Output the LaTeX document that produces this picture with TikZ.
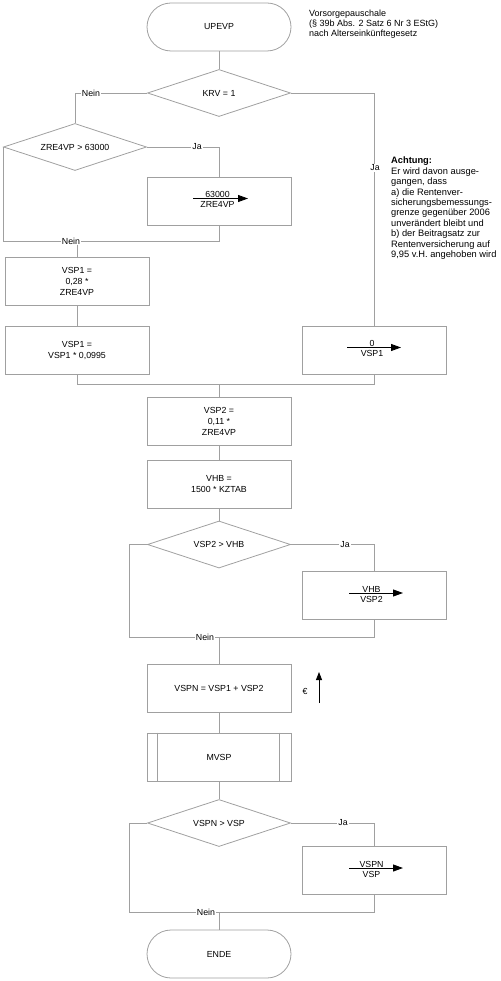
\documentclass[tikz,border=0pt]{standalone}
\usepackage{fontspec}
\setmainfont{Liberation Sans}
\usetikzlibrary{shapes.geometric,arrows.meta}
\definecolor{lg}{HTML}{A0A0A0}
\begin{document}
\begin{tikzpicture}[x=1pt,y=-1pt,
  every node/.style={font=\fontsize{8.8}{11}\selectfont},
  gl/.style={draw=lg,line width=0.8pt},
  proc/.style={gl, minimum width=144pt, minimum height=48pt, align=center, inner sep=0pt},
  term/.style={gl, rounded corners=24pt, minimum width=144pt, minimum height=48pt, inner sep=0pt},
  dec/.style={gl, diamond, aspect=3, minimum width=143pt, minimum height=47pt, inner sep=0pt},
  lbl/.style={fill=white, inner sep=1pt},
  frac/.style={inner sep=0pt},
  farr/.style={-{Triangle[length=10pt,width=7pt]}, line width=0.9pt, draw=black}
]
\useasboundingbox (0,0) rectangle (500,981);

% nodes
\node[term] (start) at (219,27) {UPEVP};
\node[anchor=north west, align=left, inner sep=0pt, font=\fontsize{9}{10.2}\selectfont] (note1) at (309,9.5)
  {Vorsorgepauschale\\(§ 39b Abs. 2 Satz 6 Nr 3 EStG)\\nach Alterseinkünftegesetz};
\node[dec] (krv) at (219,93) {KRV = 1};
\node[dec] (zre) at (75,147) {ZRE4VP > 63000};
\node[proc] (b63) at (219,201) {};
\node[proc] (vsp1a) at (77,281) {VSP1 =\\0,28 *\\ZRE4VP};
\node[proc] (vsp1b) at (77,350) {VSP1 =\\VSP1 * 0,0995};
\node[proc] (bz) at (374,350) {};
\node[anchor=north west, align=left, inner sep=0pt, font=\fontsize{9.3}{10.4}\selectfont] (note2) at (391,157)
  {\textbf{Achtung:}\\Er wird davon ausge-\\gangen, dass\\a) die Rentenver-\\sicherungsbemessungs-\\grenze gegenüber 2006\\unverändert bleibt und\\b) der Beitragsatz zur\\Rentenversicherung auf\\9,95 v.H. angehoben wird};
\node[proc] (vsp2) at (219,421) {VSP2 =\\0,11 *\\ZRE4VP};
\node[proc] (vhb) at (219,484.5) {VHB =\\1500 * KZTAB};
\node[dec] (d1) at (219,544.5) {VSP2 > VHB};
\node[proc] (bvhb) at (374.5,595.5) {};
\node[proc] (vspn) at (219,688) {VSPN = VSP1 + VSP2};
\node[proc] (mvsp) at (219,757) {MVSP};
\node[dec] (d2) at (219,823) {VSPN > VSP};
\node[proc] (bvspn) at (374.5,870.5) {};
\node[term] (ende) at (219,954) {ENDE};

% sub-process inner lines
\draw[gl] ([xshift=11pt]mvsp.north west) -- ([xshift=11pt]mvsp.south west);
\draw[gl] ([xshift=-12pt]mvsp.north east) -- ([xshift=-12pt]mvsp.south east);

% fraction contents
\node[frac, anchor=base] (n63) at ([shift={(-1.5,-3.5)}]b63.center) {63000};
\node[frac, anchor=north] (d63) at ([shift={(-1.5,0.5)}]b63.center) {ZRE4VP};
\draw[farr] ([shift={(-26,-2.5)}]b63.center) -- ([shift={(29,-2.5)}]b63.center);

\node[frac, anchor=base] (nz) at ([shift={(-2,-3.5)}]bz.center) {0};
\node[frac, anchor=north] (dz) at ([shift={(-2,0.5)}]bz.center) {VSP1};
\draw[farr] ([shift={(-27,-2.5)}]bz.center) -- ([shift={(27,-2.5)}]bz.center);

\node[frac, anchor=base] (nvhb) at ([shift={(-3,-3.5)}]bvhb.center) {VHB};
\node[frac, anchor=north] (dvhb) at ([shift={(-3,0.5)}]bvhb.center) {VSP2};
\draw[farr] ([shift={(-25.5,-2.5)}]bvhb.center) -- ([shift={(28.5,-2.5)}]bvhb.center);

\node[frac, anchor=base] (nvspn) at ([shift={(-3,-3.5)}]bvspn.center) {VSPN};
\node[frac, anchor=north] (dvspn) at ([shift={(-3,0.5)}]bvspn.center) {VSP};
\draw[farr] ([shift={(-25.5,-2.5)}]bvspn.center) -- ([shift={(28.5,-2.5)}]bvspn.center);

% euro arrow
\node[frac] (eur) at (305,691) {€};
\coordinate (eb) at (319,703);
\coordinate (et) at (319,672);
\draw[-{Triangle[length=8pt,width=6pt]}, line width=0.9pt] (eb) -- (et);

% connectors
\coordinate (m1) at (77,241);
\coordinate (m2) at (219,384);
\coordinate (m3) at (219,637);
\coordinate (m4) at (219,912);

\draw[gl] (start) -- (krv);
\draw[gl] (krv.west) -| (zre.north);
\draw[gl] (krv.east) -| (bz.north);
\draw[gl] (zre.east) -| (b63.north);
\draw[gl] (zre.west) |- (m1);
\draw[gl] (b63.south) |- (m1);
\draw[gl] (m1) -- (vsp1a.north);
\draw[gl] (vsp1a) -- (vsp1b);
\draw[gl] (vsp1b.south) |- (m2);
\draw[gl] (bz.south) |- (m2);
\draw[gl] (m2) -- (vsp2.north);
\draw[gl] (vsp2) -- (vhb);
\draw[gl] (vhb) -- (d1);
\draw[gl] (d1.east) -| (bvhb.north);
\draw[gl] (d1.west) -- ++(-18,0) |- (m3);
\draw[gl] (bvhb.south) |- (m3);
\draw[gl] (m3) -- (vspn.north);
\draw[gl] (vspn) -- (mvsp);
\draw[gl] (mvsp) -- (d2);
\draw[gl] (d2.east) -| (bvspn.north);
\draw[gl] (d2.west) -- ++(-18,0) |- (m4);
\draw[gl] (bvspn.south) |- (m4);
\draw[gl] (m4) -- (ende);

% labels
\node[lbl] (l1) at (91,93) {Nein};
\node[lbl] (l2) at (197,147) {Ja};
\node[lbl] (l3) at (71,241) {Nein};
\node[lbl] (l4) at (375,168) {Ja};
\node[lbl] (l5) at (345,544.5) {Ja};
\node[lbl] (l6) at (205,637) {Nein};
\node[lbl] (l7) at (343,823) {Ja};
\node[lbl] (l8) at (206,912) {Nein};
\end{tikzpicture}
\end{document}
